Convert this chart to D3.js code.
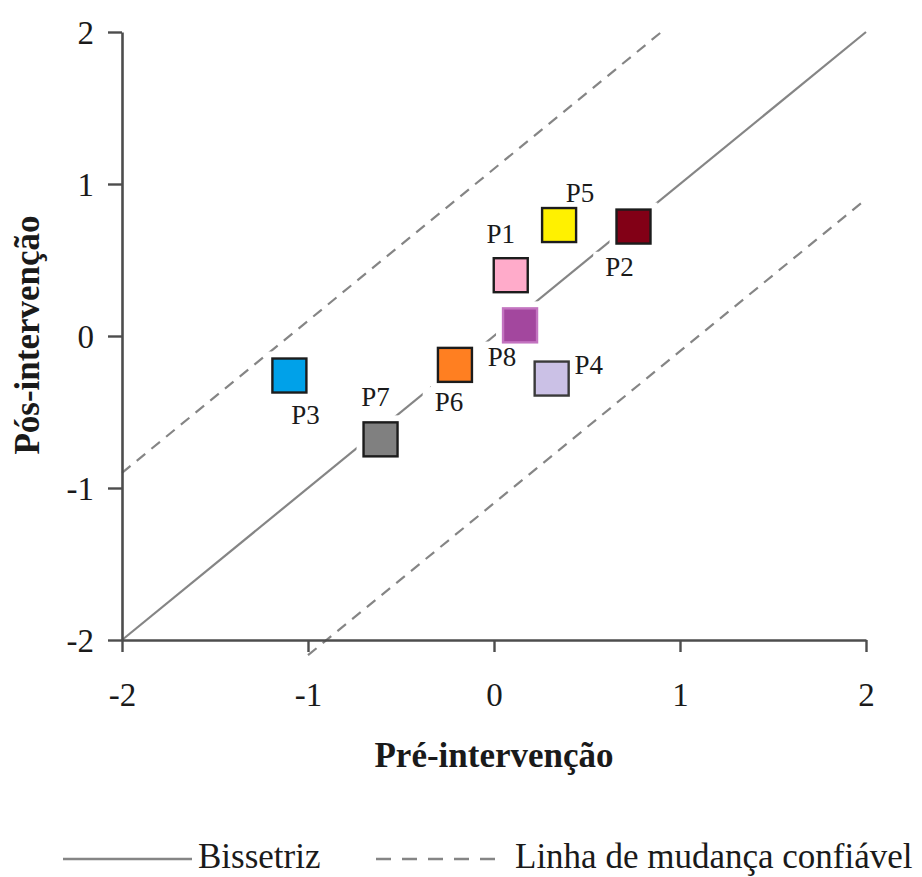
<!DOCTYPE html>
<html>
<head>
<meta charset="utf-8">
<script src="https://cdn.jsdelivr.net/npm/d3@7"></script>
<style>
  html, body { margin: 0; padding: 0; background: #fff; }
  svg { display: block; }
  text { font-family: "Liberation Serif", "Times New Roman", serif; fill: #1a1a1a; }
</style>
</head>
<body>
<svg id="chart" width="922" height="877"></svg>
<script>
// Participants and their standardised scores before / after the intervention
const participants = ["P1", "P2", "P3", "P4", "P5", "P6", "P7", "P8"];
const preScores    = [0.09, 0.75, -1.10, 0.31, 0.35, -0.21, -0.61, 0.14];
const postScores   = [0.40, 0.72, -0.26, -0.28, 0.73, -0.19, -0.68, 0.07];

// Axis ticks
const tickValues = [-2, -1, 0, 1, 2];

// Reference lines: bisector (y = x) and reliable-change bands (y = x ± 1.1)
const reliableChange = 1.1;

// Marker colours, one per participant
const markerFill   = ["#ffabca", "#820016", "#00a1e9", "#cbc1e6", "#fff100", "#ff7f21", "#808080", "#a3479e"];
const markerStroke = ["#1c1c1c", "#1c1c1c", "#1c1c1c", "#3a3a3a", "#1c1c1c", "#1c1c1c", "#1c1c1c", "#c374c0"];

// Label placement relative to each marker centre (px)
const labelOffset = [[-10, -41], [-14, 40], [16, 39], [37, -14], [21, -32], [-6, 37], [-5, -43], [-18, 31]];

const svg = d3.select("#chart");
const x = d3.scaleLinear().domain([-2, 2]).range([122, 866]);
const y = d3.scaleLinear().domain([-2, 2]).range([640, 32]);

// ----- reference lines -----
const lineGen = d3.line().x(d => x(d[0])).y(d => y(d[1]));
const lines = [
  { pts: [[-2, -2], [2, 2]], dash: null },
  { pts: [[-2, -2 + reliableChange], [2 - reliableChange, 2]], dash: "11,8" },
  { pts: [[-1, -1 - reliableChange], [2, 2 - reliableChange]], dash: "11,8" }
];
svg.append("g").selectAll("path").data(lines).join("path")
  .attr("d", d => lineGen(d.pts))
  .attr("fill", "none")
  .attr("stroke", "#858585")
  .attr("stroke-width", 2.2)
  .attr("stroke-dasharray", d => d.dash);

// ----- axes -----
const fmt = d => String(d);
const yAxis = svg.append("g")
  .attr("transform", `translate(${x(-2)},0)`)
  .call(d3.axisLeft(y).tickValues(tickValues).tickFormat(fmt).tickSize(14).tickSizeOuter(0).tickPadding(14));
const xAxis = svg.append("g")
  .attr("transform", `translate(0,${y(-2)})`)
  .call(d3.axisBottom(x).tickValues(tickValues).tickFormat(fmt).tickSize(12).tickSizeOuter(0).tickPadding(31));

[yAxis, xAxis].forEach(g => {
  g.select(".domain").attr("stroke", "#4d4d4d").attr("stroke-width", 2.6);
  g.selectAll(".tick line").attr("stroke", "#4d4d4d").attr("stroke-width", 2.4);
  g.selectAll(".tick text")
    .attr("font-family", "'Liberation Serif', 'Times New Roman', serif")
    .attr("font-size", 33)
    .attr("fill", "#1a1a1a");
});
yAxis.selectAll(".tick text").attr("dy", "0.34em");
xAxis.selectAll(".tick text").attr("dy", "0.71em");

// ----- axis titles -----
svg.append("text")
  .attr("x", 494).attr("y", 767)
  .attr("text-anchor", "middle")
  .attr("font-size", 35).attr("font-weight", "bold")
  .text("Pré-intervenção");
svg.append("text")
  .attr("transform", "translate(39,335) rotate(-90)")
  .attr("text-anchor", "middle")
  .attr("font-size", 35).attr("font-weight", "bold")
  .text("Pós-intervenção");

// ----- points -----
const points = participants.map((name, i) => ({
  name, pre: preScores[i], post: postScores[i],
  fill: markerFill[i], stroke: markerStroke[i], off: labelOffset[i]
}));
const size = 34, halo = 7;

// layers: white backing (halos + label boxes), then markers, then label text
const backing = svg.append("g");
const markerLayer = svg.append("g");
const labelLayer = svg.append("g");

// white halos keep the guide lines clear of the markers
backing.selectAll("rect.halo").data(points).join("rect")
  .attr("class", "halo")
  .attr("x", d => x(d.pre) - size / 2 - halo)
  .attr("y", d => y(d.post) - size / 2 - halo)
  .attr("width", size + 2 * halo).attr("height", size + 2 * halo)
  .attr("fill", "#fff");

markerLayer.selectAll("rect").data(points).join("rect")
  .attr("x", d => x(d.pre) - size / 2)
  .attr("y", d => y(d.post) - size / 2)
  .attr("width", size).attr("height", size)
  .attr("fill", d => d.fill)
  .attr("stroke", d => d.stroke)
  .attr("stroke-width", 2.4);

// data labels sit on white boxes
const labelText = labelLayer.selectAll("text").data(points).join("text")
  .attr("x", d => x(d.pre) + d.off[0])
  .attr("y", d => y(d.post) + d.off[1])
  .attr("text-anchor", "middle")
  .attr("dy", "0.34em")
  .attr("font-size", 27)
  .text(d => d.name);
labelText.each(function () {
  const b = this.getBBox();
  backing.append("rect")
    .attr("x", b.x - 12).attr("y", b.y)
    .attr("width", b.width + 24).attr("height", b.height - 4)
    .attr("fill", "#fff");
});

// ----- legend -----
const legend = svg.append("g");
legend.append("line")
  .attr("x1", 63).attr("x2", 192).attr("y1", 859).attr("y2", 859)
  .attr("stroke", "#858585").attr("stroke-width", 2.4);
legend.append("text").attr("x", 198).attr("y", 868).attr("font-size", 35).text("Bissetriz");
legend.append("line")
  .attr("x1", 376).attr("x2", 497).attr("y1", 859).attr("y2", 859)
  .attr("stroke", "#858585").attr("stroke-width", 2.4)
  .attr("stroke-dasharray", "15,11");
legend.append("text").attr("x", 515).attr("y", 868).attr("font-size", 35).text("Linha de mudança confiável");
</script>
</body>
</html>
